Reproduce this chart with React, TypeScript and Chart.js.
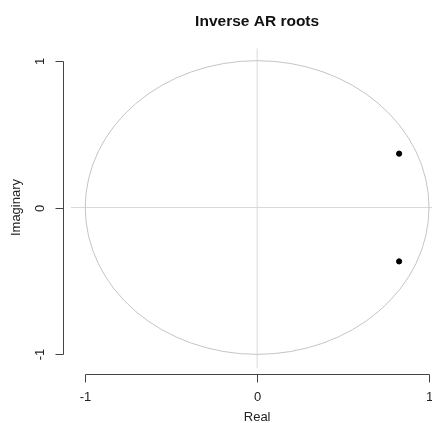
import React, { useEffect, useRef } from "react";
import { Chart, registerables } from "chart.js";

Chart.register(...registerables);

const title = "Inverse AR roots";
const xLabel = "Real";
const yLabel = "Imaginary";
const realParts = [0.826, 0.826];
const imagParts = [0.367, -0.367];
const xTicks = [-1, 0, 1];
const yTicks = [-1, 0, 1];
const xRange = [-1.083, 1.0174];
const yRange = [-1.093, 1.083];

const FONT = '"Liberation Sans", Arial, sans-serif';

const rPlot = {
  id: "rPlot",
  beforeDatasetsDraw(chart: any) {
    const { ctx, chartArea: a, scales } = chart;
    const x = scales.x, y = scales.y;
    ctx.save();
    ctx.strokeStyle = "#d9d9d9";
    ctx.lineWidth = 1;
    const x0 = x.getPixelForValue(0), y0 = y.getPixelForValue(0);
    ctx.beginPath();
    ctx.moveTo(a.left, y0);
    ctx.lineTo(a.right + 20, y0);
    ctx.moveTo(x0, a.top);
    ctx.lineTo(x0, a.bottom);
    ctx.stroke();
    const rx = x.getPixelForValue(1) - x0;
    const ry = y0 - y.getPixelForValue(1);
    ctx.strokeStyle = "#c4c4c4";
    ctx.beginPath();
    ctx.ellipse(x0, y0, rx, ry, 0, 0, Math.PI * 2);
    ctx.stroke();
    ctx.restore();
  },
  afterDraw(chart: any) {
    const { ctx, chartArea: a, scales } = chart;
    const x = scales.x, y = scales.y;
    ctx.save();
    ctx.strokeStyle = "#444";
    ctx.lineWidth = 1;
    ctx.fillStyle = "#222";
    ctx.font = "13px " + FONT;
    const axY = Math.round(a.bottom + 6) + 0.5;
    const xp = xTicks.map((t) => Math.round(x.getPixelForValue(t)) + 0.5);
    ctx.beginPath();
    ctx.moveTo(xp[0], axY);
    ctx.lineTo(xp[xp.length - 1], axY);
    xp.forEach((p) => {
      ctx.moveTo(p, axY);
      ctx.lineTo(p, axY + 8);
    });
    ctx.stroke();
    ctx.textAlign = "center";
    ctx.textBaseline = "middle";
    xTicks.forEach((t, i) => ctx.fillText(String(t), xp[i], 397));
    ctx.fillText(xLabel, x.getPixelForValue(0), 417);
    const axX = Math.round(a.left - 8) + 0.5;
    const yp = yTicks.map((t) => Math.round(y.getPixelForValue(t)) + 0.5);
    ctx.beginPath();
    ctx.moveTo(axX, yp[0]);
    ctx.lineTo(axX, yp[yp.length - 1]);
    yp.forEach((p) => {
      ctx.moveTo(axX, p);
      ctx.lineTo(axX - 8, p);
    });
    ctx.stroke();
    yTicks.forEach((t, i) => {
      ctx.save();
      ctx.translate(40, yp[i]);
      ctx.rotate(-Math.PI / 2);
      ctx.fillText(String(t), 0, 0);
      ctx.restore();
    });
    ctx.save();
    ctx.translate(16, y.getPixelForValue(0));
    ctx.rotate(-Math.PI / 2);
    ctx.fillText(yLabel, 0, 0);
    ctx.restore();
    ctx.fillStyle = "#111";
    ctx.font = "bold 15.5px " + FONT;
    ctx.fillText(title, x.getPixelForValue(0), 22);
    ctx.restore();
  },
};

export default function App() {
  const ref = useRef<HTMLCanvasElement>(null);
  useEffect(() => {
    const chart = new Chart(ref.current!, {
      type: "scatter",
      data: {
        datasets: [
          {
            data: realParts.map((r, i) => ({ x: r, y: imagParts[i] })),
            backgroundColor: "#000",
            borderColor: "#000",
            pointRadius: 2.6,
            pointHoverRadius: 2.6,
          },
        ],
      },
      options: {
        responsive: false,
        animation: false,
        events: [],
        layout: { autoPadding: false, padding: { left: 71, right: 0, top: 48.5, bottom: 55 } },
        plugins: { legend: { display: false }, tooltip: { enabled: false } },
        scales: {
          x: { type: "linear", min: xRange[0], max: xRange[1], display: false },
          y: { type: "linear", min: yRange[0], max: yRange[1], display: false },
        },
      },
      plugins: [rPlot],
    });
    return () => chart.destroy();
  }, []);
  return (
    <div style={{ position: "fixed", left: 0, top: 0, width: 432, height: 423, background: "#fff" }}>
      <canvas ref={ref} width={432} height={423} />
    </div>
  );
}
